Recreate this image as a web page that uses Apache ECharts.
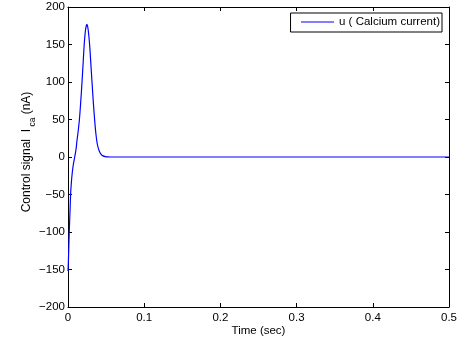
<!DOCTYPE html>
<html><head><meta charset="utf-8">
<script src="https://cdn.jsdelivr.net/npm/echarts@6/dist/echarts.min.js"></script>
<style>html,body{margin:0;padding:0;background:#fff}#c{width:468px;height:344px}</style>
</head><body><div id="c"></div>
<script>
var seriesName = 'u ( Calcium current)';
var timeSec = [0, 0.0005, 0.001, 0.0015, 0.002, 0.0028, 0.0035, 0.0045, 0.0057, 0.007, 0.0088, 0.0105, 0.0118, 0.0133, 0.0149, 0.0166, 0.0184, 0.02, 0.0214, 0.0228, 0.024, 0.0249, 0.0258, 0.027, 0.0285, 0.03, 0.0315, 0.0333, 0.035, 0.0365, 0.0385, 0.041, 0.0435, 0.046, 0.049, 0.052, 0.056, 0.1, 0.2, 0.3, 0.4, 0.5];
var current = [-152, -140, -122, -105, -90, -68, -48, -33, -20, -10, 0, 10, 22, 34, 49, 72, 100, 128, 152, 168, 175, 177, 174, 165, 148, 124, 100, 72, 49, 32, 17, 8, 3.5, 1.5, 0.5, 0.1, 0, 0, 0, 0, 0, 0];
var xTicks = [0, 0.1, 0.2, 0.3, 0.4, 0.5];
var yTicks = [-200, -150, -100, -50, 0, 50, 100, 150, 200];

var pts = timeSec.map(function (t, i) { return [t, current[i]]; });
var font = 'Liberation Sans, Arial, Helvetica, sans-serif';
var lbl = { color: '#000', fontSize: 11.5, fontFamily: font };
function fmt(v) { return String(v).replace('-', '\u2212'); }
var tick = { inside: true, length: 4, lineStyle: { color: '#000' } };
var line = { show: true, onZero: false, lineStyle: { color: '#000', width: 1 } };
var chart = echarts.init(document.getElementById('c'));
chart.setOption({
  animation: false,
  backgroundColor: '#fff',
  color: ['#0000ff'],
  grid: { left: 68, right: 19, top: 7, bottom: 37, containLabel: false },
  legend: {
    data: [seriesName], right: 26, top: 13,
    backgroundColor: '#fff', borderColor: '#000', borderWidth: 1,
    padding: [3, 2, 4, 10], itemGap: 3,
    itemWidth: 33, itemHeight: 10,
    lineStyle: { color: '#0000ff', width: 1 },
    itemStyle: { opacity: 0 },
    textStyle: { color: '#000', fontSize: 11.5, fontFamily: font }
  },
  xAxis: [{
    type: 'value', min: xTicks[0], max: xTicks[xTicks.length - 1], interval: 0.1,
    name: 'Time (sec)', nameLocation: 'middle', nameGap: 18, nameMoveOverlap: false,
    nameTextStyle: lbl,
    axisLine: line, axisTick: tick,
    axisLabel: { color: '#000', fontSize: 11.5, fontFamily: font, margin: 5, formatter: fmt },
    splitLine: { show: false }
  }, {
    type: 'value', position: 'top', min: xTicks[0], max: xTicks[xTicks.length - 1], interval: 0.1,
    axisLine: line, axisTick: tick,
    axisLabel: { show: false }, splitLine: { show: false }
  }],
  yAxis: [{
    type: 'value', min: yTicks[0], max: yTicks[yTicks.length - 1], interval: 50,
    name: '{a|Control signal  I}{s| ca}{a| (nA)}', nameLocation: 'middle', nameGap: 31, nameRotate: 90, nameMoveOverlap: false,
    nameTextStyle: { padding: [0, 0, 0, 10], rich: {
      a: { color: '#000', fontSize: 12, fontFamily: font, lineHeight: 16, verticalAlign: 'top' },
      s: { color: '#000', fontSize: 8.5, fontFamily: font, lineHeight: 16, verticalAlign: 'bottom' } } },
    axisLine: line, axisTick: tick,
    axisLabel: { color: '#000', fontSize: 11.5, fontFamily: font, margin: 3, formatter: fmt },
    splitLine: { show: false }
  }, {
    type: 'value', position: 'right', min: yTicks[0], max: yTicks[yTicks.length - 1], interval: 50,
    axisLine: line, axisTick: tick,
    axisLabel: { show: false }, splitLine: { show: false }
  }],
  series: [{
    name: seriesName, type: 'line', data: pts, showSymbol: false, symbol: 'none',
    smooth: 0.3, lineStyle: { color: '#0000ff', width: 1.2 }, itemStyle: { color: '#0000ff' }
  }]
});
</script></body></html>
